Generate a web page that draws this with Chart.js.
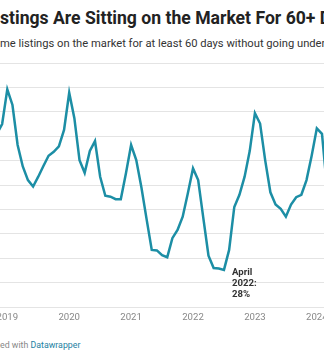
<!DOCTYPE html>
<html>
<head>
<meta charset="utf-8">
<script src="https://cdn.jsdelivr.net/npm/chart.js@4/dist/chart.umd.min.js"></script>
<style>
  html, body { margin: 0; padding: 0; width: 324px; height: 356px; overflow: hidden; background: #fff; font-family: Roboto, sans-serif; }
  .txt { position: absolute; left: 0; white-space: nowrap; line-height: 1; }
  /* the start of each line is cut off by the crop, like in the reference */
  .pre { position: absolute; right: 100%; top: 0; }
  #title { top: 10px; font-size: 17.6px; font-weight: 700; color: #222; }
  #desc { top: 37.5px; font-size: 11.2px; color: #333; }
  #foot { top: 341px; font-size: 8.8px; color: #888; }
  #foot span.dw { color: #1d81a2; }
  #wrap { position: absolute; left: -20px; top: 55px; width: 364px; height: 282px; }
</style>
</head>
<body>
<div id="title" class="txt"><span class="pre">Li</span>stings Are Sitting on the Market For 60+ Days</div>
<div id="desc" class="txt"><span class="pre">Share of ho</span>me listings on the market for at least 60 days without going under contract</div>
<div id="wrap"><canvas id="chart" width="364" height="282"></canvas></div>
<div id="foot" class="txt"><span class="pre">Creat</span>ed with <span class="dw">Datawrapper</span></div>

<script>
// month-end values, share of listings (%)
const months = [
  '2018-10', '2018-11', '2018-12',
  '2019-01', '2019-02', '2019-03', '2019-04', '2019-05', '2019-06', '2019-07', '2019-08', '2019-09', '2019-10', '2019-11', '2019-12',
  '2020-01', '2020-02', '2020-03', '2020-04', '2020-05', '2020-06', '2020-07', '2020-08', '2020-09', '2020-10', '2020-11', '2020-12',
  '2021-01', '2021-02', '2021-03', '2021-04', '2021-05', '2021-06', '2021-07', '2021-08', '2021-09', '2021-10', '2021-11', '2021-12',
  '2022-01', '2022-02', '2022-03', '2022-04', '2022-05', '2022-06', '2022-07', '2022-08', '2022-09', '2022-10', '2022-11', '2022-12',
  '2023-01', '2023-02', '2023-03', '2023-04', '2023-05', '2023-06', '2023-07', '2023-08', '2023-09', '2023-10', '2023-11', '2023-12',
  '2024-01', '2024-02'
];
const shareStale = [
  55.5, 57.5, 64.6,
  61.4, 53.2, 48.8, 46.0, 44.7, 46.7, 48.9, 51.0, 51.8, 52.9, 56.3, 63.9,
  58.7, 50.1, 47.5, 52.0, 54.0, 46.7, 42.8, 42.6, 42.1, 42.1, 47.4, 53.2,
  50.1, 44.5, 38.0, 31.7, 31.6, 30.6, 30.2, 34.1, 35.8, 38.5, 43.3, 48.4,
  46.0, 38.2, 30.5, 28.0, 27.9, 27.6, 31.7, 40.5, 43.0, 46.7, 52.0, 59.7,
  57.6, 50.0, 43.5, 41.0, 40.1, 38.5, 41.0, 42.5, 43.0, 46.0, 51.0, 56.6,
  55.5, 44.0
];
const yearTicks = [2019, 2020, 2021, 2022, 2023, 2024];
const yTicks = [20, 25, 30, 35, 40, 45, 50, 55, 60, 65, 70];
const note = { month: '2022-04', lines: ['April', '2022:', '28%'] };

// visible window of the (cropped) chart
const X_MIN = 2018.559;
const X_MAX = 2024.439;

// month-end date -> fractional year
function toYear(m) {
  const [y, mo] = m.split('-').map(Number);
  return y + mo / 12;
}

const points = months.map((m, i) => ({ x: toYear(m), y: shareStale[i] }));

const notePlugin = {
  id: 'note',
  afterDatasetsDraw(chart) {
    const idx = months.indexOf(note.month);
    const pt = chart.getDatasetMeta(0).data[idx];
    if (!pt) return;
    const ctx = chart.ctx;
    ctx.save();
    ctx.font = 'bold 9.6px Roboto, sans-serif';
    ctx.fillStyle = '#333';
    ctx.textAlign = 'left';
    ctx.textBaseline = 'alphabetic';
    note.lines.forEach((t, i) => ctx.fillText(t, pt.x + 18.3, pt.y + 7.5 + i * 11));
    ctx.restore();
  }
};

new Chart(document.getElementById('chart'), {
  type: 'line',
  data: {
    datasets: [{
      data: points,
      borderColor: '#1c8ea5',
      borderWidth: 2.5,
      pointRadius: 0,
      tension: 0,
      fill: false,
    }]
  },
  options: {
    responsive: false,
    animation: false,
    devicePixelRatio: 1,
    layout: { padding: { top: 8, left: 0, right: 0, bottom: 0 } },
    plugins: { legend: { display: false }, tooltip: { enabled: false } },
    scales: {
      x: {
        type: 'linear',
        min: X_MIN,
        max: X_MAX,
        afterBuildTicks: s => { s.ticks = yearTicks.map(v => ({ value: v })); },
        afterFit: s => { s.height = 30; },
        grid: { display: false, drawTicks: false },
        border: { display: false },
        ticks: {
          autoSkip: false,
          maxRotation: 0,
          padding: 5,
          color: '#888',
          font: { family: 'Roboto', size: 9.6 },
          callback: v => String(v),
        },
      },
      y: {
        min: 20,
        max: 70,
        afterBuildTicks: s => { s.ticks = yTicks.map(v => ({ value: v })); },
        grid: { color: '#e4e4e4', lineWidth: 1, drawTicks: false },
        border: { display: false },
        ticks: { display: false },
      },
    },
  },
  plugins: [notePlugin],
});
</script>
</body>
</html>
